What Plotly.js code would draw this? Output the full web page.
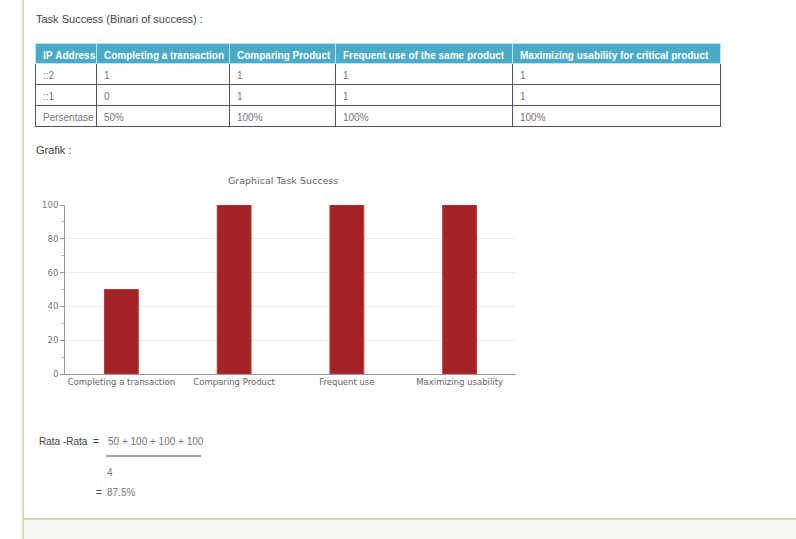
<!DOCTYPE html>
<html>
<head>
<meta charset="utf-8">
<script src="https://cdn.plot.ly/plotly-3.0.1.min.js"></script>
<style>
html,body{margin:0;padding:0;background:#fff;}
#chart{width:796px;height:539px;}
</style>
</head>
<body>
<div id="chart"></div>
<script>
// ---- data ----
var tableHeaders = ["IP Address", "Completing a transaction", "Comparing Product", "Frequent use of the same product", "Maximizing usability for critical product"];
var ipAddresses = ["::2", "::1"];
var row_ip2 = [1, 1, 1, 1];
var row_ip1 = [0, 1, 1, 1];
var percentLabel = "Persentase";
var chartCategories = ["Completing a transaction", "Comparing Product", "Frequent use", "Maximizing usability"];
var successPercent = [50, 100, 100, 100];
var yTicks = [0, 20, 40, 60, 80, 100];

// ---- helpers for pixel -> paper ----
var W = 796, H = 539;
function px(x){ return x / W; }
function py(y){ return 1 - y / H; }
function nb(s){ return s.replace(/ /g, "\u00a0"); }

// build table columns
var columns = [[ipAddresses[0], ipAddresses[1], percentLabel]];
for (var i = 0; i < row_ip2.length; i++) {
  columns.push([String(row_ip2[i]), String(row_ip1[i]), successPercent[i] + "%"]);
}

var tableTrace = {
  type: "table",
  domain: {x: [px(35), px(720)], y: [py(132), py(43)]},
  columnwidth: [61, 133, 106, 177, 208],
  header: {
    values: tableHeaders.map(nb),
    align: "left",
    height: 20,
    fill: {color: "#4aabc9"},
    line: {color: "#bfe3ee", width: 1},
    font: {family: "Liberation Sans, Arial, sans-serif", size: 10, color: "#ffffff", weight: "bold"}
  },
  cells: {
    values: columns,
    align: "left",
    height: 21,
    fill: {color: "#ffffff"},
    line: {color: "#555555", width: 1},
    font: {family: "Liberation Sans, Arial, sans-serif", size: 10, color: "#777777"}
  }
};

var barTrace = {
  type: "bar",
  x: chartCategories,
  y: successPercent,
  xaxis: "x",
  yaxis: "y",
  marker: {color: "#a42326", line: {color: "#b83a38", width: 1}},
  hoverinfo: "none"
};

var sumText = successPercent.join(" + ");
var avg = successPercent.reduce(function(a, b){ return a + b; }, 0) / successPercent.length;

var headFont = {family: "Liberation Sans, Arial, sans-serif", size: 11, color: "#444444"};
var txtFont = {family: "Liberation Sans, Arial, sans-serif", size: 10, color: "#444444"};
var grayFont = {family: "Liberation Sans, Arial, sans-serif", size: 10, color: "#777777"};

var layout = {
  width: W, height: H,
  margin: {l: 0, r: 0, t: 0, b: 0},
  paper_bgcolor: "#ffffff",
  plot_bgcolor: "#ffffff",
  showlegend: false,
  bargap: 0.7,
  title: {
    text: "Graphical Task Success",
    x: px(283), xanchor: "center", xref: "paper",
    y: py(181), yanchor: "middle", yref: "paper",
    font: {family: "DejaVu Sans, sans-serif", size: 9.5, color: "#666666"}
  },
  xaxis: {
    domain: [px(65), px(516)],
    anchor: "y",
    showline: true, linecolor: "#999999", linewidth: 1,
    showgrid: false, ticks: "",
    tickfont: {family: "DejaVu Sans, sans-serif", size: 8.5, color: "#666666"},
    fixedrange: true
  },
  yaxis: {
    domain: [py(374), py(205)],
    anchor: "x",
    range: [0, 100],
    tickvals: yTicks,
    showline: true, linecolor: "#999999", linewidth: 1,
    ticks: "outside", ticklen: 4, tickcolor: "#999999",
    gridcolor: "#ebebeb",
    zeroline: false,
    minor: {dtick: 10, ticks: "outside", ticklen: 3, tickcolor: "#bbbbbb", showgrid: false},
    tickfont: {family: "DejaVu Sans, sans-serif", size: 8.5, color: "#777777"},
    fixedrange: true
  },
  shapes: [
    {type: "line", xref: "paper", yref: "paper", x0: px(23), x1: px(23), y0: 0, y1: 1, line: {color: "#cfcfb0", width: 1.5}},
    {type: "rect", xref: "paper", yref: "paper", x0: px(23.8), x1: 1, y0: 0, y1: py(519), fillcolor: "#f7f8f4", line: {width: 0}, layer: "below"},
    {type: "line", xref: "paper", yref: "paper", x0: px(23), x1: 1, y0: py(519), y1: py(519), line: {color: "#c9caa8", width: 1.5}},
    {type: "line", xref: "paper", yref: "paper", x0: px(106), x1: px(201), y0: py(456), y1: py(456), line: {color: "#444444", width: 1}}
  ],
  annotations: [
    {text: "Task Success (Binari of success) :", xref: "paper", yref: "paper", x: px(34), y: py(19), xanchor: "left", yanchor: "middle", showarrow: false, font: headFont},
    {text: "Grafik :", xref: "paper", yref: "paper", x: px(34), y: py(150), xanchor: "left", yanchor: "middle", showarrow: false, font: headFont},
    {text: "Rata -Rata  =", xref: "paper", yref: "paper", x: px(37), y: py(441), xanchor: "left", yanchor: "middle", showarrow: false, font: txtFont},
    {text: sumText, xref: "paper", yref: "paper", x: px(106), y: py(441), xanchor: "left", yanchor: "middle", showarrow: false, font: grayFont},
    {text: String(successPercent.length), xref: "paper", yref: "paper", x: px(105), y: py(472), xanchor: "left", yanchor: "middle", showarrow: false, font: grayFont},
    {text: "=", xref: "paper", yref: "paper", x: px(94), y: py(492), xanchor: "left", yanchor: "middle", showarrow: false, font: txtFont},
    {text: avg + "%", xref: "paper", yref: "paper", x: px(105), y: py(492), xanchor: "left", yanchor: "middle", showarrow: false, font: grayFont}
  ]
};

Plotly.newPlot("chart", [tableTrace, barTrace], layout, {displayModeBar: false, staticPlot: true});
</script>
</body>
</html>
